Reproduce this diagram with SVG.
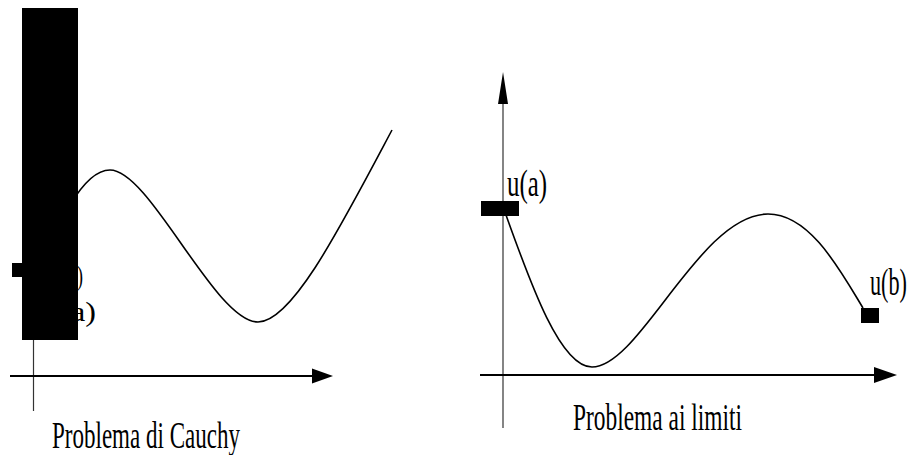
<svg xmlns="http://www.w3.org/2000/svg" width="911" height="455" viewBox="0 0 911 455">
<style>
.t{font-family:"Liberation Serif","Times New Roman",serif;font-size:37px;fill:#000}
.s{font-family:"Liberation Serif","Times New Roman",serif;font-size:28px;fill:#000}
.ax{stroke:#000;stroke-width:2;fill:none}
.vax{stroke:#333;stroke-width:1.2;fill:none}
.cv{stroke:#000;stroke-width:1.6;fill:none}
.blk{fill:#000}
</style>
<rect width="911" height="455" fill="#fff"/>
<g id="connectors">
  <line class="vax" x1="33.5" y1="300" x2="33.5" y2="411"/>
  <line class="ax" x1="10" y1="376" x2="314" y2="376"/>
  <polygon class="blk" points="312,368.5 333,376 312,383.5"/>
  <path class="cv" d="M70,205 C85,180 98,170 110,170 C150,170 215,322 258,322 C292,322 340,228 392,130"/>
  <line class="vax" x1="503" y1="100" x2="503" y2="428"/>
  <polygon class="blk" points="503,72 508,104 498,104"/>
  <line class="ax" x1="480" y1="375" x2="876" y2="375"/>
  <polygon class="blk" points="874,367 897,375 874,383"/>
  <path class="cv" d="M506,215 C530,282 560,367 592,367 C640,367 700,214 768,214 C810,214 840,270 863,308"/>
</g>
<g id="cauchy-labels">
  <text class="s" x="77" y="285" textLength="6" lengthAdjust="spacingAndGlyphs">)</text>
  <text class="s" x="71" y="321" textLength="25" lengthAdjust="spacingAndGlyphs">a)</text>
</g>
<g id="cauchy-block">
  <rect class="blk" x="22" y="8" width="56" height="332"/>
  <rect class="blk" x="12" y="263" width="12" height="14"/>
</g>
<g id="cauchy-title">
  <text class="t" x="52" y="448" textLength="188" lengthAdjust="spacingAndGlyphs">Problema di Cauchy</text>
</g>
<g id="ua">
  <rect class="blk" x="481" y="201" width="38" height="15"/>
  <text class="t" x="507" y="196" textLength="40" lengthAdjust="spacingAndGlyphs">u(a)</text>
</g>
<g id="ub">
  <rect class="blk" x="861" y="308" width="18" height="15"/>
  <text class="t" transform="translate(870,295) scale(0.6,1)" x="0" y="0">u(b)</text>
</g>
<g id="limiti-title">
  <text class="t" x="573" y="430" textLength="169" lengthAdjust="spacingAndGlyphs">Problema ai limiti</text>
</g>
</svg>
